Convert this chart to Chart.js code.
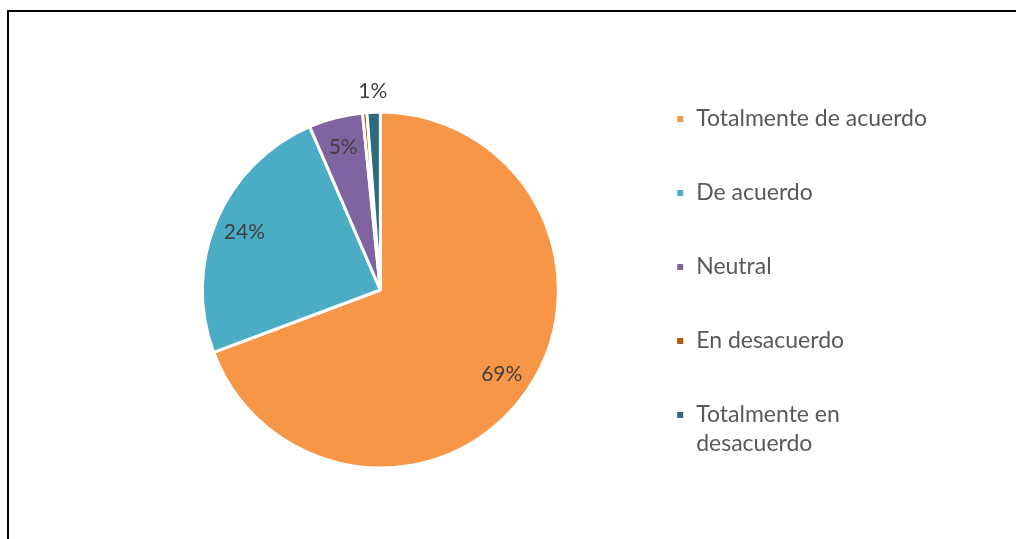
<!DOCTYPE html>
<html>
<head>
<meta charset="utf-8">
<script src="https://cdn.jsdelivr.net/npm/chart.js@4"></script>
<style>
  html, body { margin: 0; padding: 0; background: #fff; overflow: hidden; }
  #frame {
    position: absolute; left: 7px; top: 10px; width: 1100px; height: 600px;
    border-left: 2px solid #000; border-top: 2px solid #000;
  }
  #wrap { position: absolute; left: 0; top: 0; width: 1016px; height: 539px; }
</style>
</head>
<body>
<div id="frame"></div>
<div id="wrap"><canvas id="pie"></canvas></div>
<script>
const categories = [
    'Totalmente de acuerdo',
    'De acuerdo',
    'Neutral',
    'En desacuerdo',
    ['Totalmente en', 'desacuerdo']
]
const shares = [69.3, 24.2, 4.9, 0.4, 1.2]
const colors = ['#F79646', '#4BACC6', '#8064A2', '#B65708', '#2B6B7C']

const fontFamily = 'Lato, "Open Sans", sans-serif'

// percent labels: inside the slice, or just outside for very thin ones
const percentLabels = {
    id: 'percentLabels',
    afterDatasetsDraw(chart) {
        const ctx = chart.ctx
        const data = chart.data.datasets[0].data
        const total = data.reduce((a, b) => a + b, 0)
        const arcs = chart.getDatasetMeta(0).data
        ctx.save()
        ctx.fillStyle = '#404040'
        ctx.font = '21px ' + fontFamily
        ctx.textAlign = 'center'
        ctx.textBaseline = 'middle'
        arcs.forEach((arc, i) => {
            const pct = Math.round(data[i] / total * 100)
            if (pct === 0) return
            const p = arc.getProps(['x', 'y', 'startAngle', 'endAngle', 'outerRadius'], true)
            const mid = (p.startAngle + p.endAngle) / 2
            const r = data[i] / total < 0.02 ? p.outerRadius + 21 : p.outerRadius * 0.83
            ctx.fillText(pct + '%', p.x + Math.cos(mid) * r, p.y + Math.sin(mid) * r)
        })
        ctx.restore()
    }
}

new Chart(document.getElementById('pie').getContext('2d'), {
    type: 'pie',
    data: {
        labels: categories,
        datasets: [{
            data: shares,
            backgroundColor: colors,
            borderColor: '#ffffff',
            borderWidth: 3,
            radius: 178
        }]
    },
    options: {
        responsive: true,
        maintainAspectRatio: false,
        animation: false,
        layout: {
            padding: { left: 136, right: 79, top: 41, bottom: 0 }
        },
        plugins: {
            tooltip: { enabled: false },
            legend: {
                position: 'right',
                align: 'start',
                // blank title just spaces the first entry down
                title: {
                    display: true,
                    text: ' ',
                    padding: 0,
                    font: { size: 15.5, lineHeight: 1 }
                },
                labels: {
                    boxWidth: 9,
                    boxHeight: 9,
                    padding: 51,
                    color: '#595959',
                    font: { family: fontFamily, size: 23, lineHeight: 1.25 }
                }
            }
        }
    },
    plugins: [percentLabels]
})
</script>
</body>
</html>
